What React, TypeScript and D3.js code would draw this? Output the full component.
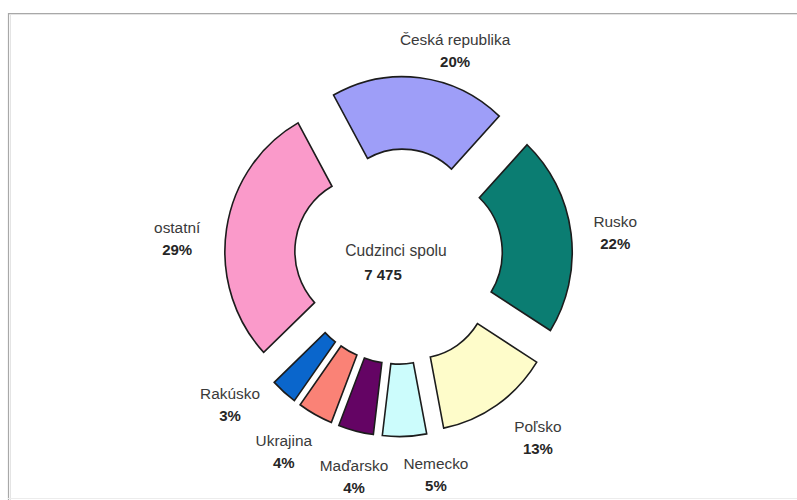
import React from "react";
import * as d3 from "d3";

const categories = ["Česká republika", "Rusko", "Poľsko", "Nemecko", "Maďarsko", "Ukrajina", "Rakúsko", "ostatní"];
const shares = [20, 22, 13, 5, 4, 4, 3, 29];
const pctLabels = ["20%", "22%", "13%", "5%", "4%", "4%", "3%", "29%"];
const colors = ["#9e9ef8", "#0b7d72", "#fefcca", "#ccfcfc", "#640464", "#fa8276", "#0a66cc", "#fa9aca"];
const centerTitle = "Cudzinci spolu";
const centerTotal = "7 475";

// label layout tweaks (degrees, px) relative to slice bisector
const labelAngleNudge = [8.4, 1.2, -3.1, -7.7, -2.8, 1.8, 7.4, -4.3];
const labelRadiusNudge = [-9, -4, 7, 0, 3, 4.6, 2.6, 0];

const W = 797;
const H = 500;
const cx = 398.5;
const cy = 256.5;
const outerR = 142;
const innerR = 72;
const explode = 32;
const yScale = 1.035;
const startDeg = -29;
const labelR = 222;

export default function App() {
  const rad = (d: number) => (d * Math.PI) / 180;
  const pie = d3
    .pie<number>()
    .sort(null)
    .value((d) => d)
    .startAngle(rad(startDeg))
    .endAngle(rad(startDeg + 360));
  const arcs = pie(shares);
  const arcGen = d3.arc<d3.PieArcDatum<number>>().innerRadius(innerR).outerRadius(outerR);

  return (
    <svg
      width={W}
      height={H}
      style={{ position: "absolute", left: 0, top: 0, background: "#fff" }}
      fontFamily="'Liberation Sans', Arial, sans-serif"
    >
      <rect x={0} y={0} width={W} height={H} fill="#fff" />
      {/* frame */}
      <line x1={9} y1={14.5} x2={W} y2={14.5} stroke="#e4e4e4" strokeWidth={1} />
      <line x1={10.5} y1={14} x2={10.5} y2={H} stroke="#e4e4e4" strokeWidth={1} />
      <line x1={8} y1={13.5} x2={W} y2={13.5} stroke="#a8a8a8" strokeWidth={1} />
      <line x1={8.5} y1={13} x2={8.5} y2={H} stroke="#a8a8a8" strokeWidth={1.2} />
      <line x1={8} y1={498.5} x2={W} y2={498.5} stroke="#ececec" strokeWidth={1} />

      <g transform={`translate(${cx},${cy}) scale(1,${yScale})`}>
        {arcs.map((a, i) => {
          const mid = (a.startAngle + a.endAngle) / 2;
          const dx = Math.sin(mid) * explode;
          const dy = -Math.cos(mid) * explode;
          return (
            <path
              key={categories[i]}
              d={arcGen(a) || ""}
              transform={`translate(${dx},${dy})`}
              fill={colors[i]}
              stroke="#1c1c1c"
              strokeWidth={1.6}
              strokeLinejoin="miter"
            />
          );
        })}
      </g>

      {arcs.map((a, i) => {
        const mid = (a.startAngle + a.endAngle) / 2 + rad(labelAngleNudge[i]);
        const r = labelR + labelRadiusNudge[i];
        const x = cx + Math.sin(mid) * r;
        const y = cy - Math.cos(mid) * r;
        return (
          <g key={"l" + i}>
            <text x={x} y={y - 6} textAnchor="middle" fontSize={15.4} fill="#3a3a3a">
              {categories[i]}
            </text>
            <text x={x} y={y + 16} textAnchor="middle" fontSize={15} fontWeight="bold" fill="#262626">
              {pctLabels[i]}
            </text>
          </g>
        );
      })}

      <text x={396} y={256} textAnchor="middle" fontSize={15.6} fill="#3a3a3a">
        {centerTitle}
      </text>
      <text x={383} y={280} textAnchor="middle" fontSize={15} fontWeight="bold" fill="#262626">
        {centerTotal}
      </text>
    </svg>
  );
}
